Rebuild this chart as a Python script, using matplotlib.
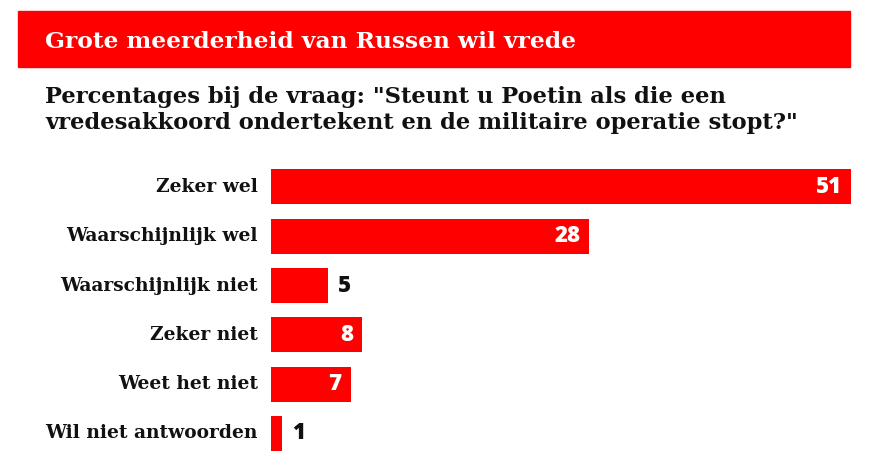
import matplotlib.pyplot as plt
from matplotlib.patches import Rectangle

categories = ['Zeker wel', 'Waarschijnlijk wel', 'Waarschijnlijk niet',
              'Zeker niet', 'Weet het niet', 'Wil niet antwoorden']
values = [51, 28, 5, 8, 7, 1]

title = 'Grote meerderheid van Russen wil vrede'
subtitle_lines = ['Percentages bij de vraag: "Steunt u Poetin als die een',
                  'vredesakkoord ondertekent en de militaire operatie stopt?"']

RED = '#fe0000'
W, H = 870, 462
serif = 'DejaVu Serif'
sans = 'Open Sans'

fig = plt.figure(figsize=(W / 100, H / 100), dpi=100)
fig.patch.set_facecolor('white')

# red banner with title
fig.patches.append(Rectangle((18 / W, 1 - 67 / H), 832 / W, 56 / H,
                             transform=fig.transFigure, color=RED, zorder=0))
fig.text(45 / W, 1 - 48 / H, title, color='white', fontsize=16.8,
         fontweight='heavy', family=serif, va='baseline')

for i, line in enumerate(subtitle_lines):
    fig.text(45 / W, 1 - (103 + 26 * i) / H, line, color='#111111',
             fontsize=16.3, fontweight='bold', family=serif, va='baseline')

# bars
ax = fig.add_axes([271 / W, 1 - 458 / H, 580 / W, (458 - 162.3) / H])
y = list(range(len(categories)))
ax.barh(y, values, height=0.71, color=RED)
ax.set_xlim(0, 51)
ax.set_ylim(len(categories) - 0.5, -0.5)
ax.axis('off')

for yi, cat, v in zip(y, categories, values):
    ax.annotate(cat, (0, yi), xytext=(-9.5, 0), textcoords='offset points',
                ha='right', va='center', fontsize=13.4, fontweight='bold',
                family=serif, color='#111111')
    if v >= 7:
        ax.annotate(str(v), (v, yi), xytext=(-6.5, 0), textcoords='offset points',
                    ha='right', va='center', fontsize=16, fontweight='heavy',
                    family=sans, color='white')
    else:
        ax.annotate(str(v), (v, yi), xytext=(7, 0), textcoords='offset points',
                    ha='left', va='center', fontsize=16, fontweight='heavy',
                    family=sans, color='#111111')

fig.savefig('out.png', dpi=100)
